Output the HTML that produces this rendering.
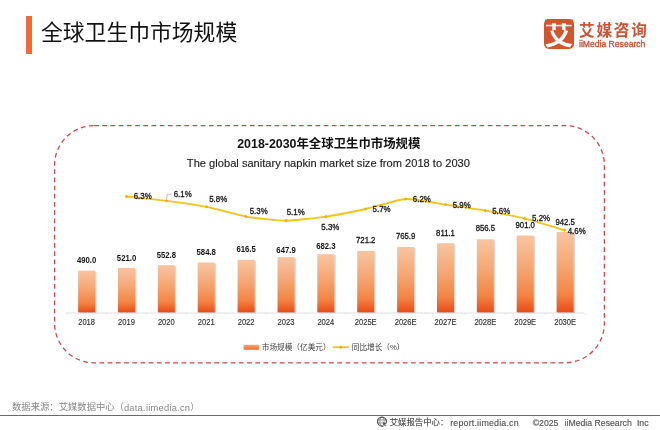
<!DOCTYPE html>
<html lang="zh"><head><meta charset="utf-8"><title>全球卫生巾市场规模</title>
<style>
html,body{margin:0;padding:0;background:#fff;}
body{width:660px;height:430px;position:relative;overflow:hidden;font-family:"Liberation Sans","Noto Sans CJK SC",sans-serif;}
.abs{position:absolute;white-space:nowrap;}
svg{position:absolute;left:0;top:0;}
svg text{font-family:"Liberation Sans","Noto Sans CJK SC",sans-serif;}
</style></head><body>
<div class="abs" style="left:26.2px;top:16px;width:6.2px;height:37.5px;background:#f26a35;"></div>
<div class="abs" id="title" style="left:41px;top:16.6px;font-size:21.8px;line-height:32px;color:#111;">全球卫生巾市场规模</div>
<!-- logo -->
<div class="abs" style="left:544px;top:19.1px;width:29.8px;height:29.8px;border-radius:5px;background:#d1562f;"></div>
<div class="abs" id="logoch" style="left:544px;top:19.1px;width:29.8px;height:29.8px;line-height:34.4px;text-align:center;font-size:28px;font-weight:700;transform:scaleX(1.03);color:#fff;">艾</div>
<div class="abs" id="logocn" style="left:579px;top:19.9px;font-size:15.6px;line-height:22px;font-weight:700;letter-spacing:1.8px;color:#cb5436;">艾媒咨询</div>
<div class="abs" id="logoen" style="left:579.3px;top:38.5px;font-size:9.2px;line-height:11px;font-weight:400;color:#c4523a;-webkit-text-stroke:0.35px #c4523a;transform:scaleX(0.935);transform-origin:0 0;">iiMedia Research</div>
<!-- footer -->
<div class="abs" id="src" style="left:12px;top:401px;font-size:9.33px;line-height:12px;color:#878787;">数据来源：艾媒数据中心（<span style="letter-spacing:0.24px;position:relative;top:0.6px;">data.iimedia.cn</span>）</div>
<div class="abs" style="left:0;top:414.7px;width:660px;height:1.2px;background:#6a6a6a;"></div>
<div class="abs" id="f1" style="left:389.7px;top:415.5px;font-size:8.4px;line-height:12px;color:#4a4a4a;-webkit-text-stroke:0.15px #4a4a4a;">艾媒报告中心：</div>
<div class="abs" id="f1b" style="left:450.2px;top:416.5px;font-size:8.9px;line-height:12px;color:#4f4f4f;-webkit-text-stroke:0.12px #4f4f4f;letter-spacing:0.18px;">report.iimedia.cn</div>
<div class="abs" id="f2" style="left:532.7px;top:416.6px;font-size:8.7px;line-height:12px;color:#555;-webkit-text-stroke:0.15px #555;">©2025</div>
<div class="abs" id="f3" style="left:564.6px;top:416.6px;font-size:8.7px;line-height:12px;color:#555;-webkit-text-stroke:0.15px #555;">iiMedia Research</div>
<div class="abs" id="f4" style="left:636.9px;top:416.6px;font-size:8.7px;line-height:12px;color:#555;-webkit-text-stroke:0.15px #555;">Inc</div>

<svg width="660" height="430" viewBox="0 0 660 430">
<defs>
<linearGradient id="bg" x1="0" y1="0" x2="0" y2="1"><stop offset="0" stop-color="#f8c5a1"/><stop offset="0.45" stop-color="#f5a470"/><stop offset="0.78" stop-color="#f28444"/><stop offset="0.92" stop-color="#ee5f27"/><stop offset="1" stop-color="#e84b19"/></linearGradient>
<linearGradient id="lg" x1="0" y1="0" x2="0" y2="1"><stop offset="0" stop-color="#f6a878"/><stop offset="1" stop-color="#ee6a30"/></linearGradient>
</defs>
<rect x="54.6" y="125.6" width="549.8" height="237.2" rx="39.5" ry="39.5" fill="none" stroke="#bf4d4b" stroke-width="1.3" stroke-dasharray="4.7 3.5"/>
<g fill="#d1562f"><rect x="545" y="19.6" width="28" height="3.7"/><rect x="545" y="22" width="6.9" height="2.8"/><rect x="555.9" y="22" width="5.9" height="2.8"/><rect x="565.9" y="22" width="7" height="2.8"/></g>
<g fill="none" stroke="#505050"><circle cx="382" cy="421.5" r="4.5" stroke-width="1.25"/><ellipse cx="382" cy="421.5" rx="2.1" ry="4.5" stroke-width="0.6"/><line x1="377.5" y1="420" x2="386.5" y2="420" stroke-width="0.6"/><line x1="377.5" y1="423" x2="386.5" y2="423" stroke-width="0.6"/></g><path d="M382.6 421.4 L387.2 423.4 L385.3 424.1 L386.6 426 L385.6 426.6 L384.4 424.7 L383.1 426 Z" fill="#454545" stroke="#fff" stroke-width="0.5"/>
<text id="t1" x="328.8" y="148.4" text-anchor="middle" font-size="12.4" font-weight="700" fill="#111">2018-2030年全球卫生巾市场规模</text>
<text id="t2" transform="translate(328.4 167.4) scale(0.959 1)" text-anchor="middle" font-size="11.6" fill="#222" stroke="#222" stroke-width="0.15">The global sanitary napkin market size from 2018 to 2030</text>
<line x1="66" y1="313" x2="584.3" y2="313" stroke="#dfdfdf" stroke-width="1"/>
<line x1="66.7" y1="313" x2="66.7" y2="315" stroke="#e4e4e4" stroke-width="0.8"/>
<line x1="106.5" y1="313" x2="106.5" y2="315" stroke="#e4e4e4" stroke-width="0.8"/>
<line x1="146.4" y1="313" x2="146.4" y2="315" stroke="#e4e4e4" stroke-width="0.8"/>
<line x1="186.3" y1="313" x2="186.3" y2="315" stroke="#e4e4e4" stroke-width="0.8"/>
<line x1="226.2" y1="313" x2="226.2" y2="315" stroke="#e4e4e4" stroke-width="0.8"/>
<line x1="266.0" y1="313" x2="266.0" y2="315" stroke="#e4e4e4" stroke-width="0.8"/>
<line x1="305.9" y1="313" x2="305.9" y2="315" stroke="#e4e4e4" stroke-width="0.8"/>
<line x1="345.8" y1="313" x2="345.8" y2="315" stroke="#e4e4e4" stroke-width="0.8"/>
<line x1="385.7" y1="313" x2="385.7" y2="315" stroke="#e4e4e4" stroke-width="0.8"/>
<line x1="425.5" y1="313" x2="425.5" y2="315" stroke="#e4e4e4" stroke-width="0.8"/>
<line x1="465.4" y1="313" x2="465.4" y2="315" stroke="#e4e4e4" stroke-width="0.8"/>
<line x1="505.3" y1="313" x2="505.3" y2="315" stroke="#e4e4e4" stroke-width="0.8"/>
<line x1="545.2" y1="313" x2="545.2" y2="315" stroke="#e4e4e4" stroke-width="0.8"/>
<line x1="585.0" y1="313" x2="585.0" y2="315" stroke="#e4e4e4" stroke-width="0.8"/>
<rect x="79.5" y="271.6" width="17.0" height="41.5" fill="#8a8a8a" opacity="0.33"/>
<rect x="78.1" y="270.6" width="17.0" height="41.7" fill="url(#bg)"/>
<rect x="119.4" y="268.9" width="17.0" height="44.2" fill="#8a8a8a" opacity="0.33"/>
<rect x="118.0" y="267.9" width="17.0" height="44.4" fill="url(#bg)"/>
<rect x="159.2" y="266.2" width="17.0" height="46.9" fill="#8a8a8a" opacity="0.33"/>
<rect x="157.8" y="265.2" width="17.0" height="47.1" fill="url(#bg)"/>
<rect x="199.1" y="263.5" width="17.0" height="49.6" fill="#8a8a8a" opacity="0.33"/>
<rect x="197.7" y="262.5" width="17.0" height="49.8" fill="url(#bg)"/>
<rect x="239.0" y="260.8" width="17.0" height="52.3" fill="#8a8a8a" opacity="0.33"/>
<rect x="237.6" y="259.8" width="17.0" height="52.5" fill="url(#bg)"/>
<rect x="278.9" y="258.1" width="17.0" height="55.0" fill="#8a8a8a" opacity="0.33"/>
<rect x="277.5" y="257.1" width="17.0" height="55.2" fill="url(#bg)"/>
<rect x="318.7" y="255.2" width="17.0" height="57.9" fill="#8a8a8a" opacity="0.33"/>
<rect x="317.3" y="254.2" width="17.0" height="58.1" fill="url(#bg)"/>
<rect x="358.6" y="251.9" width="17.0" height="61.2" fill="#8a8a8a" opacity="0.33"/>
<rect x="357.2" y="250.9" width="17.0" height="61.4" fill="url(#bg)"/>
<rect x="398.5" y="248.0" width="17.0" height="65.1" fill="#8a8a8a" opacity="0.33"/>
<rect x="397.1" y="247.0" width="17.0" height="65.3" fill="url(#bg)"/>
<rect x="438.4" y="244.2" width="17.0" height="68.9" fill="#8a8a8a" opacity="0.33"/>
<rect x="437.0" y="243.2" width="17.0" height="69.1" fill="url(#bg)"/>
<rect x="478.2" y="240.3" width="17.0" height="72.8" fill="#8a8a8a" opacity="0.33"/>
<rect x="476.8" y="239.3" width="17.0" height="73.0" fill="url(#bg)"/>
<rect x="518.1" y="236.5" width="17.0" height="76.6" fill="#8a8a8a" opacity="0.33"/>
<rect x="516.7" y="235.5" width="17.0" height="76.8" fill="url(#bg)"/>
<rect x="558.0" y="233.0" width="17.0" height="80.1" fill="#8a8a8a" opacity="0.33"/>
<rect x="556.6" y="232.0" width="17.0" height="80.3" fill="url(#bg)"/>
<text transform="translate(86.6 262.9) scale(0.9 1)" text-anchor="middle" font-size="8.6" font-weight="700" fill="#151515">490.0</text>
<text transform="translate(126.5 260.6) scale(0.9 1)" text-anchor="middle" font-size="8.6" font-weight="700" fill="#151515">521.0</text>
<text transform="translate(166.3 257.8) scale(0.9 1)" text-anchor="middle" font-size="8.6" font-weight="700" fill="#151515">552.8</text>
<text transform="translate(206.2 255.2) scale(0.9 1)" text-anchor="middle" font-size="8.6" font-weight="700" fill="#151515">584.8</text>
<text transform="translate(246.1 252.2) scale(0.9 1)" text-anchor="middle" font-size="8.6" font-weight="700" fill="#151515">616.5</text>
<text transform="translate(286.0 252.9) scale(0.9 1)" text-anchor="middle" font-size="8.6" font-weight="700" fill="#151515">647.9</text>
<text transform="translate(325.8 248.9) scale(0.9 1)" text-anchor="middle" font-size="8.6" font-weight="700" fill="#151515">682.3</text>
<text transform="translate(365.7 243.0) scale(0.9 1)" text-anchor="middle" font-size="8.6" font-weight="400" fill="#151515" stroke="#151515" stroke-width="0.3">721.2</text>
<text transform="translate(405.6 239.4) scale(0.9 1)" text-anchor="middle" font-size="8.6" font-weight="400" fill="#151515" stroke="#151515" stroke-width="0.3">765.9</text>
<text transform="translate(445.5 235.7) scale(0.9 1)" text-anchor="middle" font-size="8.6" font-weight="400" fill="#151515" stroke="#151515" stroke-width="0.3">811.1</text>
<text transform="translate(485.3 231.1) scale(0.9 1)" text-anchor="middle" font-size="8.6" font-weight="400" fill="#151515" stroke="#151515" stroke-width="0.3">856.5</text>
<text transform="translate(525.2 227.8) scale(0.9 1)" text-anchor="middle" font-size="8.6" font-weight="400" fill="#151515" stroke="#151515" stroke-width="0.3">901.0</text>
<text transform="translate(565.1 224.7) scale(0.9 1)" text-anchor="middle" font-size="8.6" font-weight="400" fill="#151515" stroke="#151515" stroke-width="0.3">942.5</text>
<text transform="translate(86.6 325.1) scale(0.87 1)" text-anchor="middle" font-size="8.7" font-weight="400" fill="#333333" stroke="#333333" stroke-width="0.15">2018</text>
<text transform="translate(126.5 325.1) scale(0.87 1)" text-anchor="middle" font-size="8.7" font-weight="400" fill="#333333" stroke="#333333" stroke-width="0.15">2019</text>
<text transform="translate(166.3 325.1) scale(0.87 1)" text-anchor="middle" font-size="8.7" font-weight="400" fill="#333333" stroke="#333333" stroke-width="0.15">2020</text>
<text transform="translate(206.2 325.1) scale(0.87 1)" text-anchor="middle" font-size="8.7" font-weight="400" fill="#333333" stroke="#333333" stroke-width="0.15">2021</text>
<text transform="translate(246.1 325.1) scale(0.87 1)" text-anchor="middle" font-size="8.7" font-weight="400" fill="#333333" stroke="#333333" stroke-width="0.15">2022</text>
<text transform="translate(286.0 325.1) scale(0.87 1)" text-anchor="middle" font-size="8.7" font-weight="400" fill="#333333" stroke="#333333" stroke-width="0.15">2023</text>
<text transform="translate(325.8 325.1) scale(0.87 1)" text-anchor="middle" font-size="8.7" font-weight="400" fill="#333333" stroke="#333333" stroke-width="0.15">2024</text>
<text transform="translate(365.7 325.1) scale(0.87 1)" text-anchor="middle" font-size="8.7" font-weight="400" fill="#333333" stroke="#333333" stroke-width="0.15">2025E</text>
<text transform="translate(405.6 325.1) scale(0.87 1)" text-anchor="middle" font-size="8.7" font-weight="400" fill="#333333" stroke="#333333" stroke-width="0.15">2026E</text>
<text transform="translate(445.5 325.1) scale(0.87 1)" text-anchor="middle" font-size="8.7" font-weight="400" fill="#333333" stroke="#333333" stroke-width="0.15">2027E</text>
<text transform="translate(485.3 325.1) scale(0.87 1)" text-anchor="middle" font-size="8.7" font-weight="400" fill="#333333" stroke="#333333" stroke-width="0.15">2028E</text>
<text transform="translate(525.2 325.1) scale(0.87 1)" text-anchor="middle" font-size="8.7" font-weight="400" fill="#333333" stroke="#333333" stroke-width="0.15">2029E</text>
<text transform="translate(565.1 325.1) scale(0.87 1)" text-anchor="middle" font-size="8.7" font-weight="400" fill="#333333" stroke="#333333" stroke-width="0.15">2030E</text>
<path d="M126.5 196.5 C130.1 196.9 159.2 199.9 166.5 200.8 C173.8 201.7 199.3 205.4 206.5 206.8 C213.7 208.2 238.8 215.3 246.0 216.6 C253.2 217.9 278.7 220.6 286.0 220.6 C293.3 220.6 318.8 217.7 326.0 216.6 C333.2 215.5 358.5 210.6 365.7 209.0 C372.9 207.4 398.3 199.4 405.6 199.0 C412.9 198.6 438.4 203.6 445.6 204.7 C452.8 205.8 478.1 209.3 485.3 210.6 C492.5 211.9 517.6 216.8 524.8 218.6 C532.0 220.4 561.0 229.2 564.6 230.3" fill="none" stroke="#f5c415" stroke-width="1.8" stroke-linecap="round" stroke-linejoin="round"/>
<path d="M124.7 196.5 L126.5 194.7 L128.3 196.5 L126.5 198.3 Z" fill="#e0b41a"/>
<path d="M164.7 200.8 L166.5 199.0 L168.3 200.8 L166.5 202.6 Z" fill="#e0b41a"/>
<path d="M204.7 206.8 L206.5 205.0 L208.3 206.8 L206.5 208.6 Z" fill="#e0b41a"/>
<path d="M244.2 216.6 L246.0 214.8 L247.8 216.6 L246.0 218.4 Z" fill="#e0b41a"/>
<path d="M284.2 220.6 L286.0 218.8 L287.8 220.6 L286.0 222.4 Z" fill="#e0b41a"/>
<path d="M324.2 216.6 L326.0 214.8 L327.8 216.6 L326.0 218.4 Z" fill="#e0b41a"/>
<path d="M363.9 209.0 L365.7 207.2 L367.5 209.0 L365.7 210.8 Z" fill="#e0b41a"/>
<path d="M403.8 199.0 L405.6 197.2 L407.4 199.0 L405.6 200.8 Z" fill="#e0b41a"/>
<path d="M443.8 204.7 L445.6 202.9 L447.4 204.7 L445.6 206.5 Z" fill="#e0b41a"/>
<path d="M483.5 210.6 L485.3 208.8 L487.1 210.6 L485.3 212.4 Z" fill="#e0b41a"/>
<path d="M523.0 218.6 L524.8 216.8 L526.6 218.6 L524.8 220.4 Z" fill="#e0b41a"/>
<path d="M562.8 230.3 L564.6 228.5 L566.4 230.3 L564.6 232.1 Z" fill="#e0b41a"/>
<path d="M166.7 199.5 L167.2 194.4 L171.6 194.2" fill="none" stroke="#a6a6a6" stroke-width="0.7"/>
<text transform="translate(133.7 198.9) scale(0.92 1)" text-anchor="start" font-size="8.6" font-weight="400" fill="#151515" stroke="#151515" stroke-width="0.3">6.3%</text>
<text transform="translate(173.7 197.2) scale(0.92 1)" text-anchor="start" font-size="8.6" font-weight="400" fill="#151515" stroke="#151515" stroke-width="0.3">6.1%</text>
<text transform="translate(209.2 202.2) scale(0.92 1)" text-anchor="start" font-size="8.6" font-weight="400" fill="#151515" stroke="#151515" stroke-width="0.3">5.8%</text>
<text transform="translate(249.7 214.1) scale(0.92 1)" text-anchor="start" font-size="8.6" font-weight="400" fill="#151515" stroke="#151515" stroke-width="0.3">5.3%</text>
<text transform="translate(286.7 214.7) scale(0.92 1)" text-anchor="start" font-size="8.6" font-weight="400" fill="#151515" stroke="#151515" stroke-width="0.3">5.1%</text>
<text transform="translate(321.3 229.6) scale(0.92 1)" text-anchor="start" font-size="8.6" font-weight="400" fill="#151515" stroke="#151515" stroke-width="0.3">5.3%</text>
<text transform="translate(372.6 212.4) scale(0.92 1)" text-anchor="start" font-size="8.6" font-weight="400" fill="#151515" stroke="#151515" stroke-width="0.3">5.7%</text>
<text transform="translate(412.8 202.2) scale(0.92 1)" text-anchor="start" font-size="8.6" font-weight="400" fill="#151515" stroke="#151515" stroke-width="0.3">6.2%</text>
<text transform="translate(452.7 207.8) scale(0.92 1)" text-anchor="start" font-size="8.6" font-weight="400" fill="#151515" stroke="#151515" stroke-width="0.3">5.9%</text>
<text transform="translate(492.2 213.7) scale(0.92 1)" text-anchor="start" font-size="8.6" font-weight="400" fill="#151515" stroke="#151515" stroke-width="0.3">5.6%</text>
<text transform="translate(532.1 220.7) scale(0.92 1)" text-anchor="start" font-size="8.6" font-weight="400" fill="#151515" stroke="#151515" stroke-width="0.3">5.2%</text>
<text transform="translate(567.7 233.6) scale(0.92 1)" text-anchor="start" font-size="8.6" font-weight="400" fill="#151515" stroke="#151515" stroke-width="0.3">4.6%</text>
<rect x="244.2" y="345.2" width="15.2" height="4.8" fill="#999" opacity="0.4"/><rect x="243.6" y="344.8" width="15.2" height="4.8" fill="url(#lg)"/>
<text x="261.8" y="349.9" font-size="7.65" fill="#404040">市场规模（亿美元）</text>
<line x1="332.7" y1="347.2" x2="348.8" y2="347.2" stroke="#f5c415" stroke-width="1.8"/>
<path d="M338.9 347.2 L340.8 345.3 L342.7 347.2 L340.8 349.1 Z" fill="#e0b41a"/>
<text x="351.8" y="349.9" font-size="7.65" fill="#404040">同比增长（%）</text>
</svg></body></html>
